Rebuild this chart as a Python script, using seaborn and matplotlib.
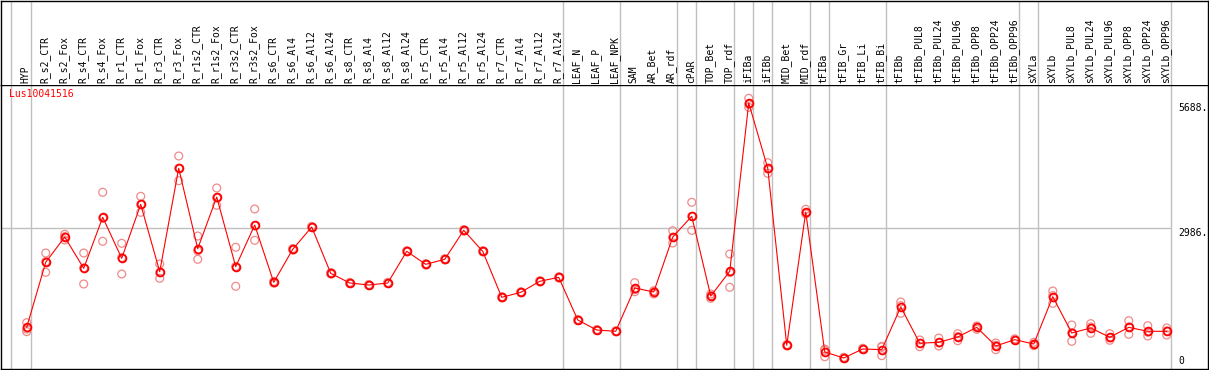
import numpy as np
import pandas as pd
import matplotlib
matplotlib.use('Agg')
import matplotlib.pyplot as plt
import seaborn as sns

# sample labels, left to right
samples = ['HYP', 'R_s2_CTR', 'R_s2_Fox', 'R_s4_CTR', 'R_s4_Fox', 'R_r1_CTR', 'R_r1_Fox',
           'R_r3_CTR', 'R_r3_Fox', 'R_r1s2_CTR', 'R_r1s2_Fox', 'R_r3s2_CTR', 'R_r3s2_Fox',
           'R_s6_CTR', 'R_s6_Al4', 'R_s6_Al12', 'R_s6_Al24', 'R_s8_CTR', 'R_s8_Al4',
           'R_s8_Al12', 'R_s8_Al24', 'R_r5_CTR', 'R_r5_Al4', 'R_r5_Al12', 'R_r5_Al24',
           'R_r7_CTR', 'R_r7_Al4', 'R_r7_Al12', 'R_r7_Al24', 'LEAF_N', 'LEAF_P', 'LEAF_NPK',
           'SAM', 'AR_Bet', 'AR_rdf', 'cPAR', 'TOP_Bet', 'TOP_rdf', 'iFIBa', 'iFIBb',
           'MID_Bet', 'MID_rdf', 'tFIBa', 'tFIB_Gr', 'tFIB_Li', 'tFIB_Bi', 'tFIBb',
           'tFIBb_PUL8', 'tFIBb_PUL24', 'tFIBb_PUL96', 'tFIBb_OPP8', 'tFIBb_OPP24',
           'tFIBb_OPP96', 'sXYLa', 'sXYLb', 'sXYLb_PUL8', 'sXYLb_PUL24', 'sXYLb_PUL96',
           'sXYLb_OPP8', 'sXYLb_OPP24', 'sXYLb_OPP96']

means = [838, 2244, 2791, 2114, 3217, 2330, 3497, 2041, 4276, 2538, 3655, 2149, 3050,
         1811, 2525, 3007, 2006, 1796, 1753, 1796,
         2481, 2200, 2309, 2935, 2481, 1487, 1595, 1833, 1919,
         997, 780, 752,
         1688, 1602, 2791, 3238, 1515, 2049,
         5688, 4276, 450, 3331,
         305, 175, 370, 355, 1278,
         493, 514, 629, 838, 435, 571, 478,
         1501, 716, 824, 623, 838, 752, 752]

rep_a = [938, 2445, 2849, 2445, 3757, 2654, 3670, 2207, 4542, 2812, 3850, 2568, 3396,
         1830, 2540, 3020, 2020, 1810, 1765, 1810,
         2495, 2215, 2320, 2950, 2495, 1500, 1605, 1845, 1930,
         1010, 790, 762,
         1803, 1620, 2927, 3541, 1559, 2423,
         5789, 4397, 465, 3390,
         370, 190, 385, 413, 1386,
         564, 607, 700, 867, 500, 590, 514,
         1623, 888, 917, 700, 981, 873, 824]
rep_b = [744, 2028, 2726, 1775, 2698, 1991, 3325, 1898, 4008, 2309, 3476, 1725, 2719,
         1795, 2510, 2995, 1990, 1785, 1740, 1785,
         2470, 2185, 2295, 2920, 2470, 1475, 1585, 1820, 1905,
         985, 770, 742,
         1608, 1559, 2661, 2935, 1466, 1703,
         5594, 4168, 440, 3290,
         203, 165, 360, 225, 1141,
         420, 435, 549, 795, 355, 555, 442,
         1357, 536, 709, 558, 687, 651, 672]
rep_c = [800, 2259, 2798, 2122, 3196, 2345, 3496, 2018, 4278, 2493, 3639, 2154, 3035,
         1808, 2525, 3005, 2008, 1793, 1754, 1793,
         2478, 2200, 2312, 2935, 2478, 1486, 1595, 1834, 1922,
         996, 780, 752,
         1653, 1627, 2785, 3238, 1520, 2021,
         5660, 4263, 445, 3313,
         340, 170, 365, 427, 1307,
         495, 500, 638, 852, 450, 568, 478,
         1523, 724, 846, 611, 846, 732, 760]

# index of the last sample in each group
group_ends = [0, 28, 31, 34, 35, 37, 38, 39, 41, 42, 45, 52, 53, 60]
ytick_vals = [5688, 2986, 0]
gene = 'Lus10041516'

df = pd.DataFrame({'pos': np.arange(len(samples)), 'sample': samples, 'mean': means,
                   'r1': rep_a, 'r2': rep_b, 'r3': rep_c})
reps = df.melt(id_vars=['pos'], value_vars=['r1', 'r2', 'r3'], value_name='expr')

W, H = 1209, 370
fig = plt.figure(figsize=(W / 100, H / 100), dpi=100)


def px_rect(left, top, right, bottom):
    return [left / W, 1 - bottom / H, (right - left) / W, (bottom - top) / H]


ax = fig.add_axes(px_rect(1, 85, 1208, 369))
hx = fig.add_axes(px_rect(1, 0.5, 1208, 85), sharex=ax)

gray = '#c0c0c0'
mono = 'DejaVu Sans Mono'
xlim = (-1.353, 62.17)
ax.set_xlim(*xlim)
ax.set_ylim(-63, 6077)
hx.set_ylim(0, 1)

seps = [-0.85] + [g + 0.2 for g in group_ends]
for s in seps:
    ax.axvline(s, color=gray, lw=1.0, zorder=0)
    hx.axvline(s, color=gray, lw=1.0, zorder=0)
ax.hlines(2986, xlim[0], 60.2, color=gray, lw=1.0, zorder=0)

sns.scatterplot(data=reps, x='pos', y='expr', ax=ax, marker='o', s=32,
                facecolors='none', edgecolor='#f08a8a', linewidth=0.9, zorder=2, legend=False)
sns.lineplot(data=df, x='pos', y='mean', ax=ax, color='red', lw=0.8, sort=False,
             marker='o', markersize=5.6, mfc='none', mec='red', mew=1.3,
             errorbar=None, zorder=3)

for i, lab in enumerate(samples):
    hx.text(i - 0.05, 2 / 84.5, lab, rotation=90, ha='center', va='bottom',
            fontsize=7, family=mono, transform=hx.get_xaxis_transform())

for v in ytick_vals:
    ax.text(60.62, v, f'{v}.' if v else '0', ha='left', va='bottom' if v == 0 else 'top',
            fontsize=7, family=mono, color='black')

ax.text(-0.93, 5990, gene, color='red', fontsize=7, family=mono, ha='left', va='top')

for a in (ax, hx):
    a.set_xticks([])
    a.set_yticks([])
    a.set_xlabel('')
    a.set_ylabel('')
    for sp in a.spines.values():
        sp.set_color('black')
        sp.set_linewidth(1.0)
hx.spines['bottom'].set_visible(False)

fig.savefig('out.png', dpi=100)
